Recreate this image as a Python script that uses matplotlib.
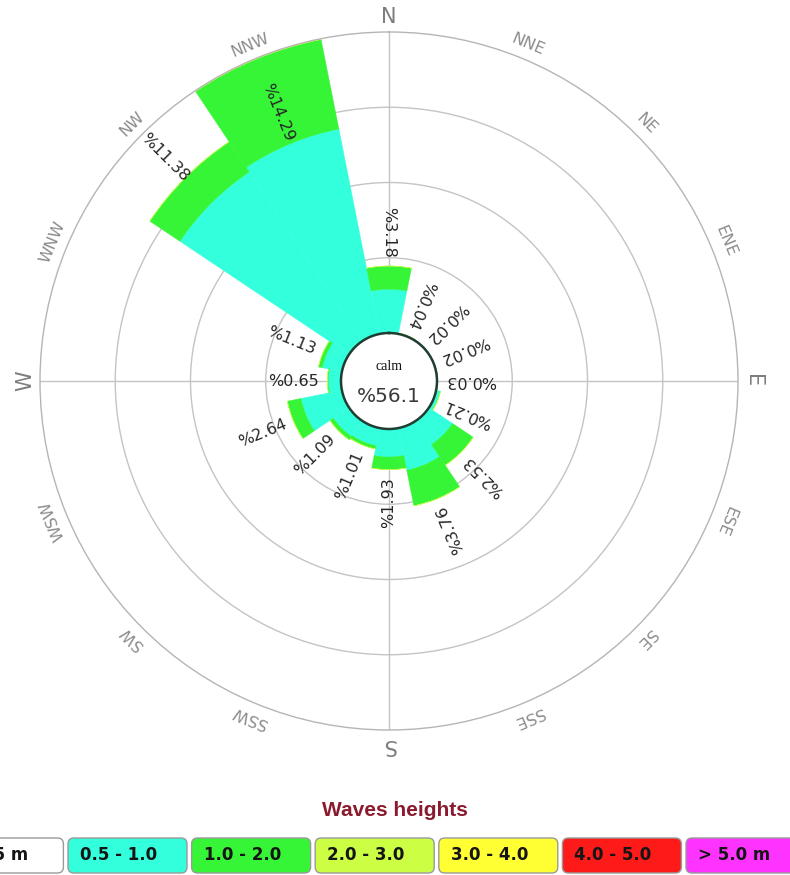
import numpy as np
import matplotlib
matplotlib.use("Agg")
import matplotlib.pyplot as plt
from matplotlib.patches import FancyBboxPatch

# Wave rose: share of time (%) per direction, split by significant wave height
directions = ["N", "NNE", "NE", "ENE", "E", "ESE", "SE", "SSE",
              "S", "SSW", "SW", "WSW", "W", "WNW", "NW", "NNW"]
h_05_10 = [2.08, 0.04, 0.02, 0.02, 0.03, 0.19, 1.35, 2.04,
           1.33, 0.85, 0.90, 1.98, 0.60, 0.95, 9.66, 9.92]
h_10_20 = [1.10, 0.00, 0.00, 0.00, 0.00, 0.02, 1.18, 1.72,
           0.60, 0.16, 0.19, 0.66, 0.05, 0.18, 1.72, 4.33]
h_20_30 = [0.00, 0.00, 0.00, 0.00, 0.00, 0.00, 0.00, 0.00,
           0.00, 0.00, 0.00, 0.00, 0.00, 0.00, 0.00, 0.04]
calm_pct = 56.1

band_labels = ["< 0.5 m", "0.5 - 1.0", "1.0 - 2.0", "2.0 - 3.0",
               "3.0 - 4.0", "4.0 - 5.0", "> 5.0 m"]
band_colors = ["#FFFFFF", "#33FFDD", "#36F536", "#CCFF44",
               "#FFFF33", "#FF1A1A", "#FF33FF"]

W, H = 790, 875
fig = plt.figure(figsize=(W / 100, H / 100), dpi=100)
fig.patch.set_facecolor("white")

# polar panel: centre (389, 381) px, outer radius 349 px, calm hole 48 px
cx, cy, R, hole = 389, 381, 349, 48
ax = fig.add_axes([(cx - R) / W, (H - cy - R) / H, 2 * R / W, 2 * R / H],
                  projection="polar")
ax.set_theta_zero_location("N")
ax.set_theta_direction(-1)

stacks = [h_05_10, h_10_20, h_20_30]
stack_colors = band_colors[1:4]
totals = np.round(np.sum(stacks, axis=0), 2)
rmax = float(totals.max())
ax.set_ylim(0, rmax)
ax.set_rorigin(-rmax * hole / (R - hole))
unit = (R - hole) / rmax  # pixels per percent

theta_deg = np.arange(len(directions)) * 22.5
theta = np.deg2rad(theta_deg)
width = 2 * np.pi / len(directions)

bottom = np.zeros(len(directions))
for vals, col in zip(stacks, stack_colors):
    vals = np.asarray(vals)
    ax.bar(theta, vals, width=width, bottom=bottom, color=col,
           edgecolor=col, linewidth=0.3, zorder=1)
    bottom += vals

# grid: four rings and the four cardinal spokes
ax.set_yticks([rmax / 4, rmax / 2, 3 * rmax / 4])
ax.set_yticklabels([])
ax.set_xticks(np.deg2rad([0, 90, 180, 270]))
ax.set_xticklabels([])
ax.grid(True, color="#c4c4c4", linewidth=1.0)
ax.set_axisbelow(True)
ax.spines["polar"].set_color("#b5b5b5")
ax.spines["polar"].set_linewidth(1.0)
ax.spines["inner"].set_color("#1f3d31")
ax.spines["inner"].set_linewidth(1.8)

# direction names around the rim, written along the circle
for d, deg, th in zip(directions, theta_deg, theta):
    cardinal = len(d) == 1
    ax.text(th, rmax + 15 / unit, d, rotation=-deg, rotation_mode="anchor",
            ha="center", va="center",
            fontsize=15 if cardinal else 11.5,
            color="#7d7d7d" if cardinal else "#8c8c8c",
            family="DejaVu Sans")

# percentage labels, read towards the centre, just beyond each bar
for tot, deg, th in zip(totals, theta_deg, theta):
    if tot >= rmax:
        r_lab = tot - 89 / unit          # longest bar carries its label inside
    else:
        r_lab = min(tot + 8 / unit, rmax - 63 / unit)
    ax.text(th, r_lab, f"%{tot:g}",
            rotation=-90 - deg, rotation_mode="anchor",
            ha="right", va="center", fontsize=11.5, color="#262626",
            family="DejaVu Sans")

# calm share in the middle
ax.text(0.5, 0.5 + 14 / (2 * R), "calm", transform=ax.transAxes,
        ha="center", va="center", fontsize=10, family="Liberation Serif",
        color="#111111")
ax.text(0.5, 0.5 - 16 / (2 * R), f"%{calm_pct:g}", transform=ax.transAxes,
        ha="center", va="center", fontsize=14.5, family="DejaVu Sans",
        color="#3a3a3a")

# legend strip at the bottom, laid out in pixel units
top = 780
lax = fig.add_axes([0, 0, 1, (H - top) / H])
lax.set_xlim(0, W)
lax.set_ylim(H, top)
lax.axis("off")
lax.text(395, 811, "Waves heights", ha="center", va="center",
         fontsize=15, fontweight="bold", family="Liberation Sans",
         color="#8B1A2E")

box_w, box_h, pitch, x1 = 119, 35, 123.6, 68
for i, (lab, col) in enumerate(zip(band_labels, band_colors)):
    x0 = x1 + (i - 1) * pitch
    lax.add_patch(FancyBboxPatch((x0, 838), box_w, box_h,
                                 boxstyle="round,pad=0,rounding_size=6",
                                 facecolor=col, edgecolor="#9a9a9a",
                                 linewidth=1.0, clip_on=False))
    lax.text(x0 + 12, 855, lab, ha="left", va="center", fontsize=12,
             fontweight="bold", family="DejaVu Sans", color="#151515")

fig.savefig("out.png", dpi=100)
